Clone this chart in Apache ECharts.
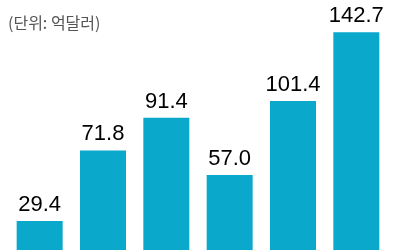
<!DOCTYPE html>
<html><head><meta charset="utf-8">
<script src="https://cdn.jsdelivr.net/npm/echarts@6/dist/echarts.min.js"></script>
<style>html,body{margin:0;padding:0;background:#fff}#c{width:400px;height:250px}</style>
</head><body><div id="c"></div>
<script>
var categories = ['1', '2', '3', '4', '5', '6'];
var values = [29.4, 71.8, 91.4, 57.0, 101.4, 142.7];
var labels = ['29.4', '71.8', '91.4', '57.0', '101.4', '142.7'];
var unitText = '(단위: 억달러)';

var chart = echarts.init(document.getElementById('c'), null, {renderer: 'canvas'});
chart.setOption({
  animation: false,
  backgroundColor: '#fff',
  title: {
    text: unitText, left: 3, top: 10,
    textStyle: {fontFamily: '"Noto Sans CJK KR", sans-serif', fontSize: 16, fontWeight: 'normal', color: '#555'}
  },
  grid: {left: 8, right: 12, top: 0, bottom: 0, containLabel: false},
  xAxis: {
    type: 'category', data: categories,
    axisLine: {show: false}, axisTick: {show: false}, axisLabel: {show: false}
  },
  yAxis: {
    type: 'value', min: 12.0, max: 162.1,
    show: false, splitLine: {show: false}
  },
  series: [{
    type: 'bar', data: values, barWidth: 46,
    itemStyle: {color: '#0aa9cc'},
    label: {
      show: true, position: 'top', distance: 5,
      formatter: function (p) { return labels[p.dataIndex]; },
      fontFamily: '"Liberation Sans", Arial, sans-serif',
      fontSize: 22, color: '#000', letterSpacing: -1
    }
  }]
});
</script></body></html>
